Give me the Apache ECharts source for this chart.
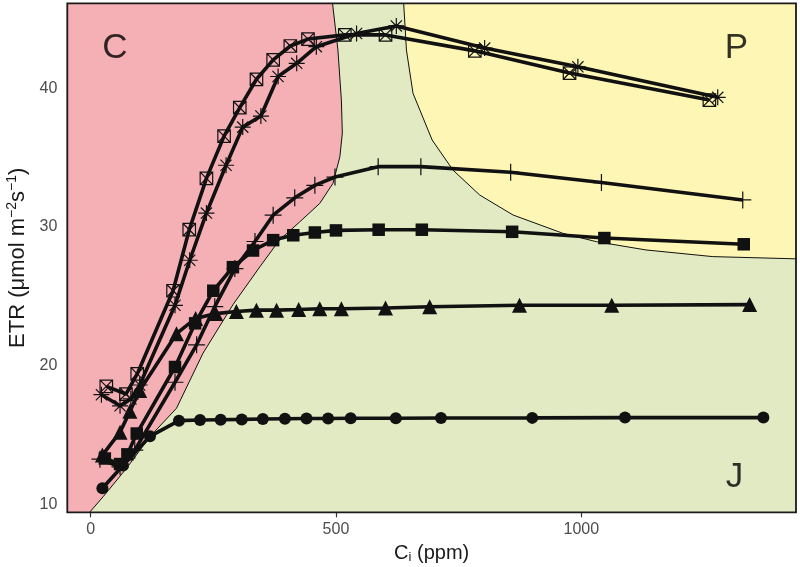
<!DOCTYPE html>
<html><head><meta charset="utf-8">
<script src="https://cdn.jsdelivr.net/npm/echarts@6/dist/echarts.min.js"></script>
<style>html,body{margin:0;padding:0;background:#fff}#c{width:800px;height:567px}</style>
</head><body><div id="c"></div>
<script>
// ---- data (Ci ppm, ETR) ----
const circles = [[24,11.15],[66,12.8],[121,14.9],[180,16.03],[223,16.08],[265,16.1],[308,16.12],[351,16.15],[396,16.17],[440,16.18],[484,16.18],[530,16.2],[622,16.2],[714,16.22],[900,16.23],[1089,16.25],[1371,16.25]];
const triangles = [[24,13.55],[60,15.2],[80,16.7],[100,18.2],[175,22.3],[214,23.4],[255,23.75],[297,23.9],[338,24.0],[379,24.0],[424,24.05],[467,24.1],[511,24.1],[601,24.15],[691,24.25],[874,24.35],[1062,24.35],[1343,24.4]];
const squares = [[29,13.3],[60,12.9],[75,13.6],[94,15.1],[172,19.9],[213,23.05],[250,25.4],[290,27.1],[331,28.3],[372,29.05],[413,29.4],[457,29.6],[500,29.75],[587,29.8],[675,29.8],[859,29.65],[1047,29.2],[1331,28.75]];
const crosses = [[19,13.25],[60,12.7],[90,13.9],[172,18.8],[216,21.5],[253,24.25],[294,27.0],[335,28.95],[372,30.85],[416,32.1],[457,33.0],[498,33.6],[586,34.35],[673,34.35],[856,33.95],[1041,33.2],[1329,31.95]];
const boxX = [[32,18.5],[72,17.95],[95,19.4],[168,25.4],[201,29.8],[236,33.5],[272,36.55],[304,38.6],[338,40.65],[372,42.05],[407,43.05],[443,43.55],[518,43.85],[601,43.85],[783,42.7],[976,41.1],[1261,39.15]];
const asterisks = [[22,17.9],[60,17.1],[82,17.6],[100,18.6],[172,24.35],[202,27.6],[236,31.0],[276,34.45],[310,37.2],[347,38.0],[382,40.85],[420,41.8],[460,43.0],[542,43.95],[623,44.5],[803,42.9],[993,41.55],[1278,39.35]];
// region boundaries
const cjBoundary = [[-2,9.42],[25.7,10.55],[73.3,12.6],[120.8,14.87],[175,16.92],[229,20.89],[290,24.39],[345,27.13],[385,29.06],[426,30.36],[467,31.7],[494,33.15],[508,35.07],[513,36.78],[511,39.15],[504,42.76],[493,46.13]];
const jpBoundary = [[638,46.13],[643.6,42.76],[657,39.64],[696,36.27],[738.5,34.1],[793,32.3],[861,30.86],[962.5,29.54],[1030.5,28.94],[1132,28.34],[1268,27.86],[1437.5,27.7]];
const regionLabels = [[49.5,42.9,'C'],[1316,42.9,'P'],[1312,11.97,'J']];
const xTicks = [0,500,1000];
const yTicks = [10,20,30,40];
const xMin=-47.5, xMax=1437.5, yMin=9.42, yMax=46.13;

const chart = echarts.init(document.getElementById('c'));
const black='#111111';
function lineSeries(data, symbol, size, filled){
  return {type:'line', data, symbol, symbolSize:size, z:3,
    lineStyle:{color:black,width:3.6}, showAllSymbol:true,
    itemStyle: filled ? {color:black} : {color:'none', borderColor:black, borderWidth:1.2},
    emphasis:{disabled:true}, animation:false, silent:true};
}
const plusPath='path://M5,0 L5,10 M0,5 L10,5';
const boxXPath='path://M0,0 L10,0 L10,10 L0,10 Z M0,0 L10,10 M10,0 L0,10';
const starPath='path://M5,0 L5,10 M0,5 L10,5 M1.5,1.5 L8.5,8.5 M8.5,1.5 L1.5,8.5';

const option = {
  animation:false,
  grid:{left:67.3,right:4,top:3.3,bottom:54.7,show:true,backgroundColor:'#E1EAC2',borderWidth:0,containLabel:false,outerBoundsMode:'none'},
  xAxis:{type:'value',min:xMin,max:xMax,
    name:'C{sub|i} (ppm)',nameLocation:'middle',nameGap:30,
    nameTextStyle:{fontFamily:'Liberation Sans',fontSize:20,color:'#1a1a1a',rich:{sub:{fontSize:13,verticalAlign:'bottom',padding:[9,0,0,0],fontFamily:'Liberation Sans',color:'#1a1a1a'}}},
    axisLine:{show:false},splitLine:{show:false},
    axisTick:{show:true,length:5,lineStyle:{color:'#333',width:1.2},customValues:xTicks},
    axisLabel:{customValues:xTicks,formatter:v=>String(v),color:'#4D4D4D',fontFamily:'Liberation Sans',fontSize:16,margin:9}},
  yAxis:{type:'value',min:yMin,max:yMax,
    name:'ETR (μmol m{sup|−2}s{sup|−1})',nameLocation:'middle',nameGap:36,nameRotate:90,
    nameTextStyle:{fontFamily:'Liberation Sans',fontSize:22,color:'#1a1a1a',rich:{sup:{fontSize:14,verticalAlign:'top',padding:[0,0,10,0],fontFamily:'Liberation Sans',color:'#1a1a1a'}}},
    axisLine:{show:false},splitLine:{show:false},
    axisTick:{show:true,length:5,lineStyle:{color:'#333',width:1.2},customValues:yTicks},
    axisLabel:{customValues:yTicks,color:'#4D4D4D',fontFamily:'Liberation Sans',fontSize:16,margin:10}},
  series:[
    {type:'custom',data:[[0,0]],z:1,silent:true,clip:false,
     renderItem:(params,api)=>{
       const P=p=>api.coord([p[0],p[1]]);
       const cPoly=[[xMin,yMin]].concat(cjBoundary,[[xMin,yMax]]).map(P);
       const pPoly=jpBoundary.concat([[xMax,yMax]]).map(P);
       return {type:'group',children:[
         {type:'polygon',shape:{points:cPoly},style:{fill:'#F5B0B6'}},
         {type:'polygon',shape:{points:pPoly},style:{fill:'#FEF6B4'}},
         {type:'polyline',shape:{points:cjBoundary.map(P)},style:{stroke:black,lineWidth:1,fill:null}},
         {type:'polyline',shape:{points:jpBoundary.map(P)},style:{stroke:black,lineWidth:1,fill:null}}
       ]};
     }},
    lineSeries(circles,'circle',12,true),
    lineSeries(triangles,'triangle',15,true),
    lineSeries(squares,'rect',12.5,true),
    lineSeries(crosses,plusPath,17,false),
    lineSeries(boxX,boxXPath,12.5,false),
    lineSeries(asterisks,starPath,16,false),
    {type:'scatter',data:regionLabels.map(d=>[d[0],d[1],d[2]]),symbolSize:0,z:5,silent:true,
     label:{show:true,position:'inside',formatter:p=>p.data[2],fontFamily:'Liberation Sans',fontSize:35,color:'#000'}},
    {type:'custom',data:[[0,0]],z:6,silent:true,clip:false,
     renderItem:(params,api)=>{
       const tl=api.coord([xMin,yMax]), br=api.coord([xMax,yMin]);
       return {type:'rect',shape:{x:tl[0],y:tl[1],width:br[0]-tl[0],height:br[1]-tl[1]},style:{fill:null,stroke:'#1a1a1a',lineWidth:1.8}};
     }}
  ]
};
chart.setOption(option);
</script></body></html>
